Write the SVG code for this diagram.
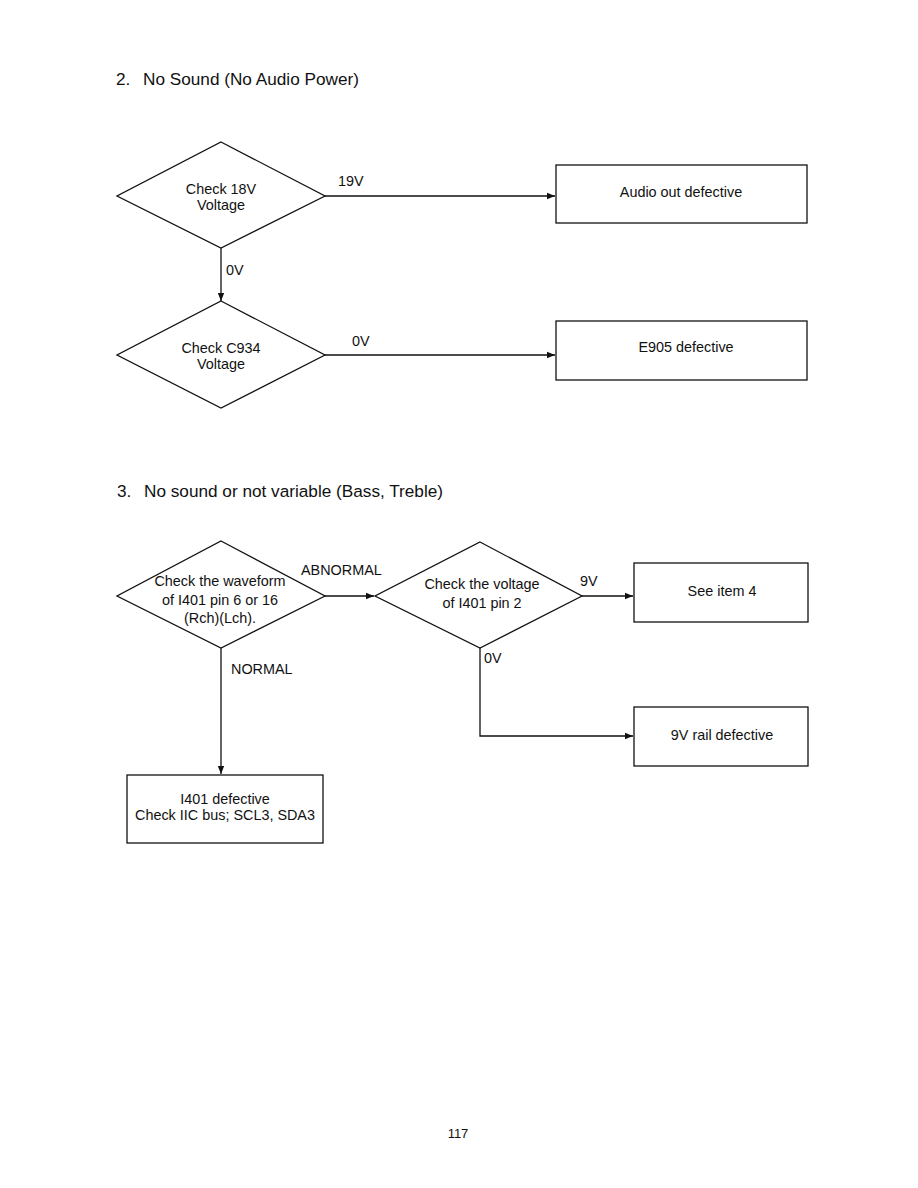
<svg xmlns="http://www.w3.org/2000/svg" width="918" height="1188" viewBox="0 0 918 1188">
<style>
text{font-family:"Liberation Sans",Arial,sans-serif;fill:#111;font-size:14.4px}
.t{font-size:17.2px}
.c{text-anchor:middle}
.s{fill:none;stroke:#111;stroke-width:1.3}
.ln{fill:none;stroke:#111;stroke-width:1.3;marker-end:url(#ah)}
</style>
<defs>
<marker id="ah" viewBox="0 0 10 10" refX="10" refY="5" markerWidth="11" markerHeight="8" markerUnits="userSpaceOnUse" orient="auto"><path d="M0,1 L10,5 L0,9 z" fill="#111"/></marker>
</defs>
<rect width="918" height="1188" fill="#fff"/>
<text class="t" x="116" y="85">2.<tspan x="143">No Sound (No Audio Power)</tspan></text>
<text class="t" x="117" y="497">3.<tspan x="144">No sound or not variable (Bass, Treble)</tspan></text>
<g id="connectors">
<line class="ln" x1="325" y1="196" x2="555" y2="196"/>
<line class="ln" x1="221" y1="248" x2="221" y2="301"/>
<line class="ln" x1="325" y1="355" x2="555" y2="355"/>
<line class="ln" x1="325" y1="596" x2="374" y2="596"/>
<line class="ln" x1="582" y1="596" x2="633" y2="596"/>
<polyline class="ln" points="480,648 480,736 633,736"/>
<line class="ln" x1="221" y1="648" x2="221" y2="774"/>
<text x="338" y="186">19V</text>
<text x="226" y="275">0V</text>
<text x="352" y="346">0V</text>
<text x="301" y="575">ABNORMAL</text>
<text x="580" y="586">9V</text>
<text x="484" y="663">0V</text>
<text x="231" y="674">NORMAL</text>
</g>
<g id="d1">
<polygon class="s" points="221,142 325,196 221,248 117,196"/>
<text class="c" x="221" y="194">Check 18V</text>
<text class="c" x="221" y="210">Voltage</text>
</g>
<g id="b1">
<rect class="s" x="556" y="165" width="251" height="58"/>
<text class="c" x="681" y="197">Audio out defective</text>
</g>
<g id="d2">
<polygon class="s" points="221,301 325,355 221,408 117,355"/>
<text class="c" x="221" y="353">Check C934</text>
<text class="c" x="221" y="369">Voltage</text>
</g>
<g id="b2">
<rect class="s" x="556" y="321" width="251" height="59"/>
<text class="c" x="686" y="352">E905 defective</text>
</g>
<g id="d3">
<polygon class="s" points="221,541 325,596 221,648 117,596"/>
<text class="c" x="220" y="586">Check the waveform</text>
<text class="c" x="220" y="605">of I401 pin 6 or 16</text>
<text class="c" x="220" y="623">(Rch)(Lch).</text>
</g>
<g id="d4">
<polygon class="s" points="480,542 582,596 480,648 375,596"/>
<text class="c" x="482" y="589">Check the voltage</text>
<text class="c" x="482" y="608">of I401 pin 2</text>
</g>
<g id="b3">
<rect class="s" x="634" y="563" width="174" height="59"/>
<text class="c" x="722" y="596">See item 4</text>
</g>
<g id="b4">
<rect class="s" x="634" y="707" width="174" height="59"/>
<text class="c" x="722" y="740">9V rail defective</text>
</g>
<g id="b5">
<rect class="s" x="127" y="775" width="196" height="68"/>
<text class="c" x="225" y="804">I401 defective</text>
<text class="c" x="225" y="820">Check IIC bus; SCL3, SDA3</text>
</g>
<text class="c" x="458" y="1138" style="font-size:13px">117</text>
</svg>
